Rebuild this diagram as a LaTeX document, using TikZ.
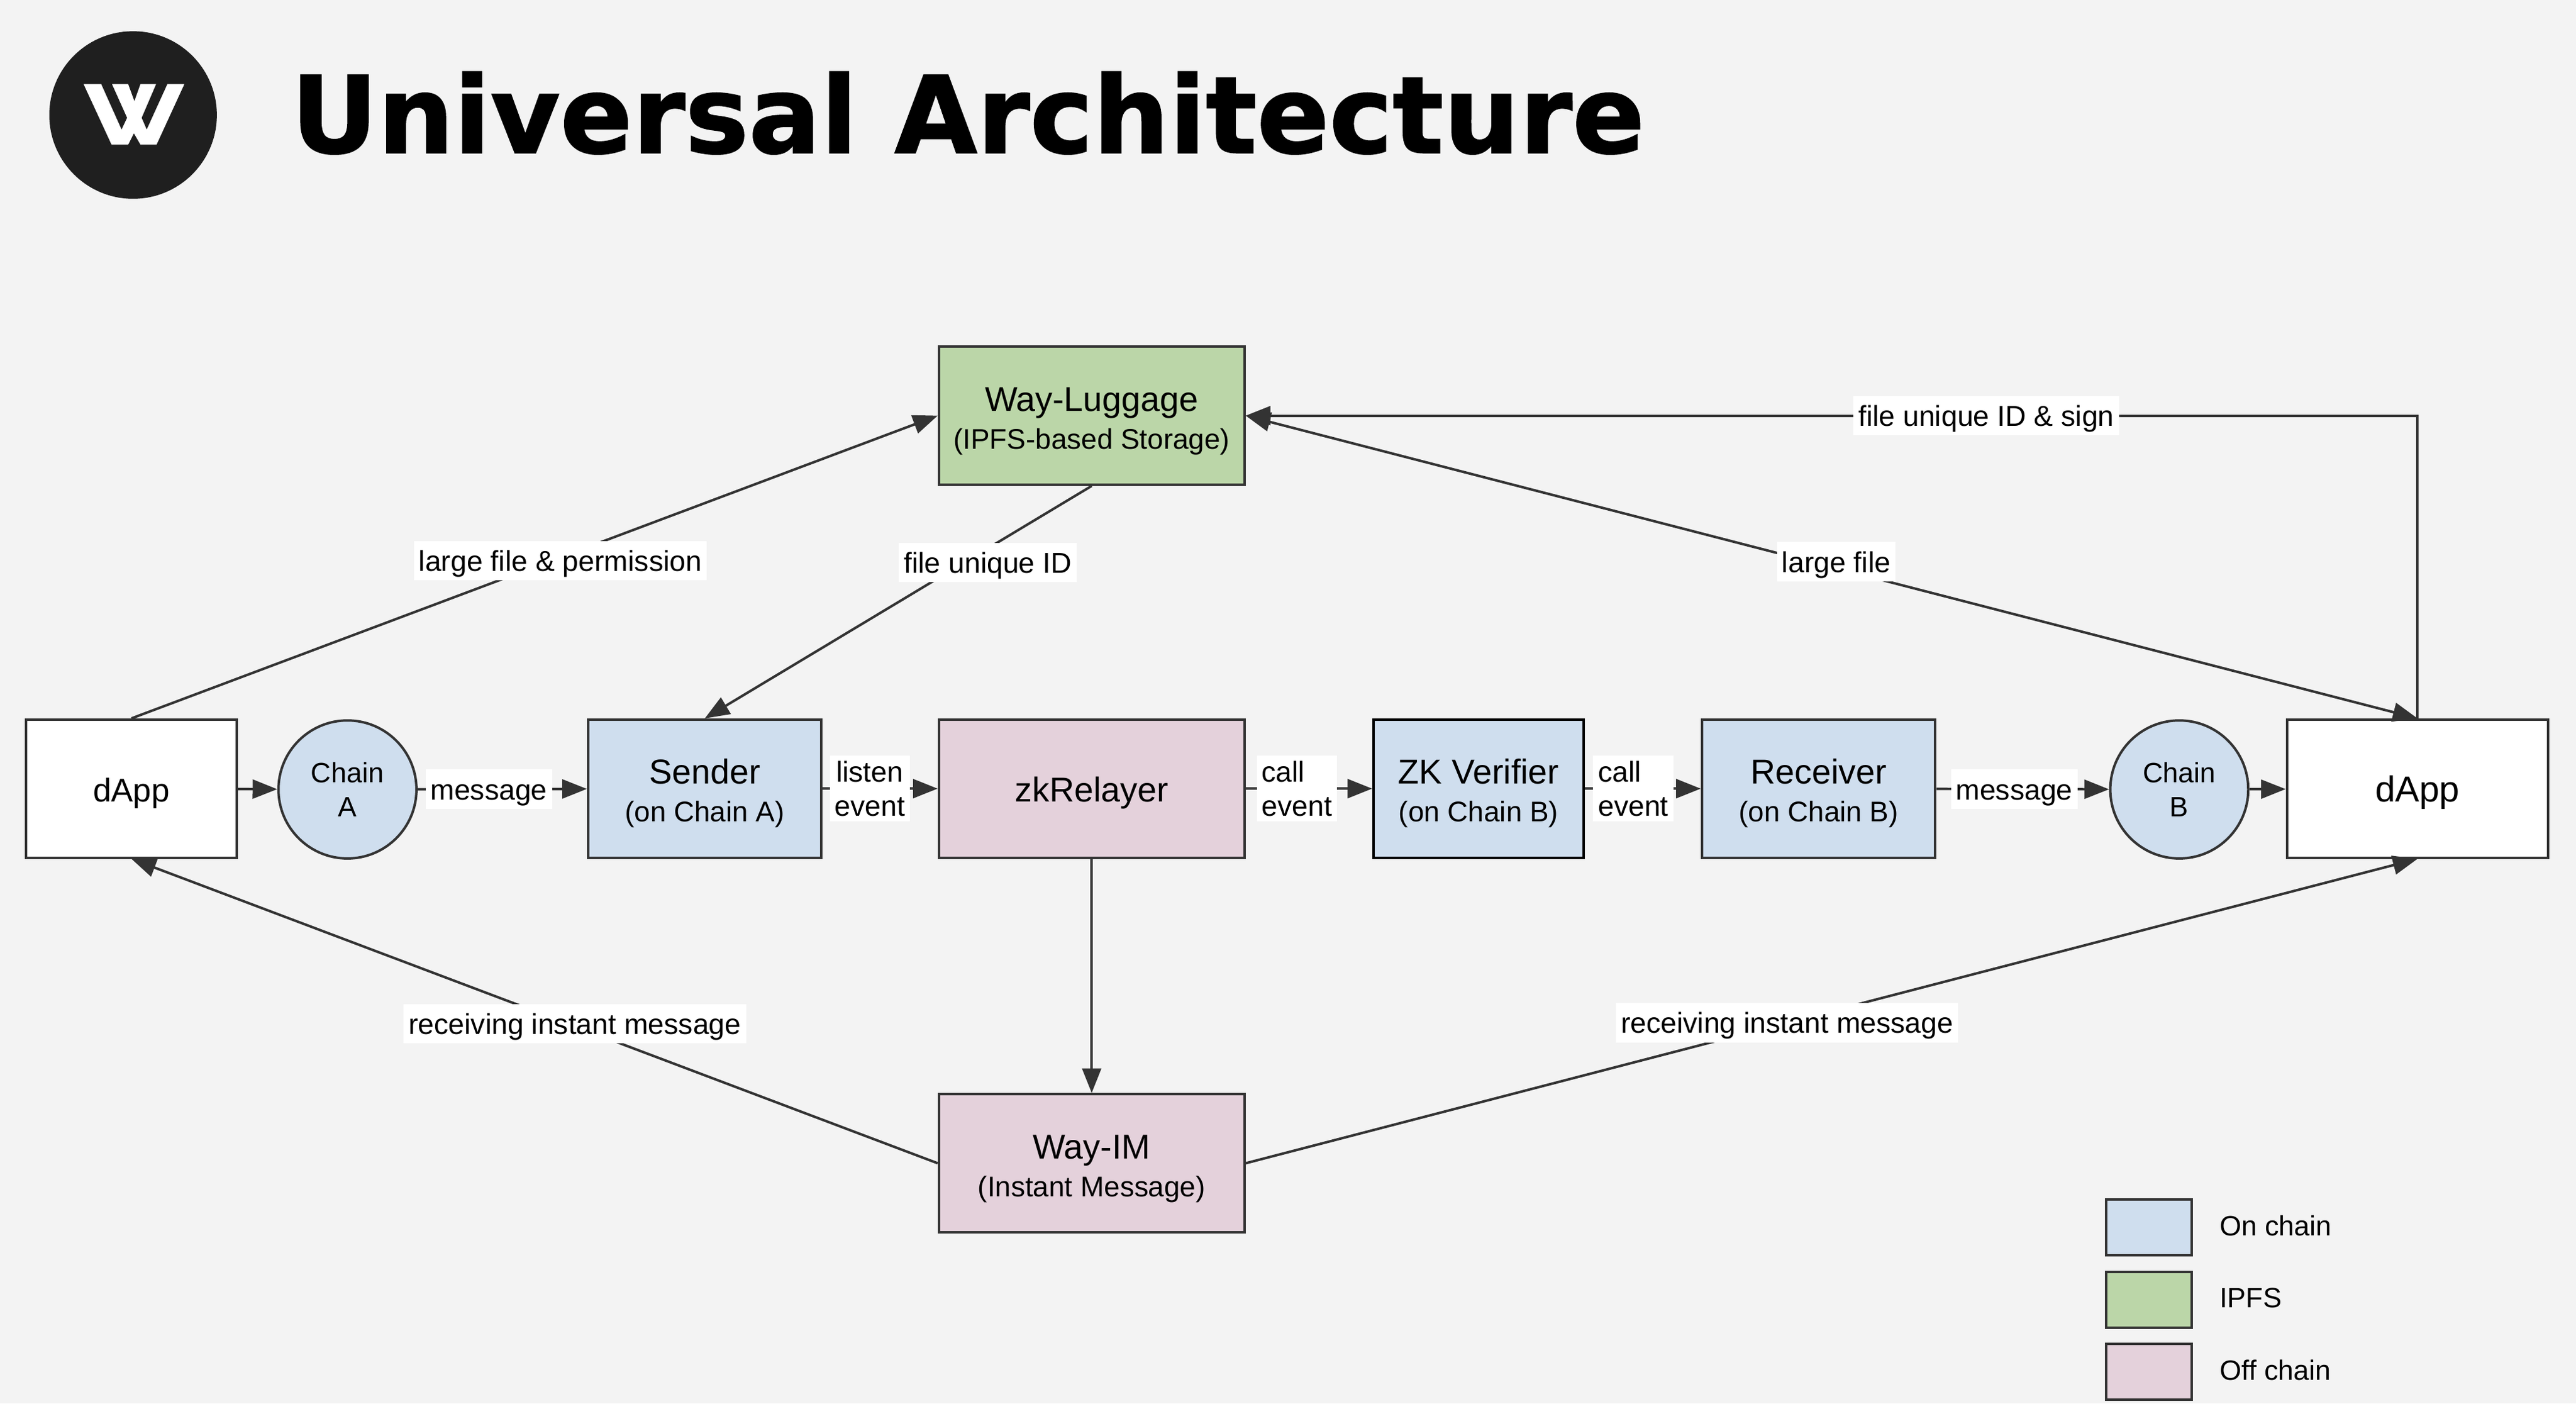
\documentclass[tikz,border=0pt]{standalone}
\usepackage{fontspec}
\usetikzlibrary{arrows.meta}
\setmainfont{Liberation Sans}
\newfontfamily\titlefont{DejaVu Sans Bold}[FakeBold = 1.2]
\definecolor{mblue}{HTML}{CFDEEE}
\definecolor{mgreen}{HTML}{BBD6A8}
\definecolor{mpink}{HTML}{E4D1DB}
\definecolor{mline}{HTML}{333333}
\definecolor{mback}{HTML}{F3F3F3}
\newcommand{\twolines}[2]{\rule{0pt}{21pt}#1\\{\fontsize{17.3}{23}\selectfont #2}}
\tikzset{box/.style = {draw = mline, line width = 1.5pt, minimum height = 84pt, inner sep = 0, align = center, font = \fontsize{21}{23}\selectfont}}
\tikzset{onebox/.style = {box, text height = 18pt, text depth = 2pt}}
\tikzset{chain/.style = {draw = mline, fill = mblue, line width = 1.5pt, circle, minimum size = 84pt, inner sep = 0, align = center, font = \fontsize{17}{21}\selectfont}}
\tikzset{lab/.style = {fill = white, inner sep = 3pt, align = center, font = \fontsize{17.5}{21}\selectfont}}
\tikzset{oneline/.style = {lab, text height = 15.5pt, text depth = 2.5pt}}
\tikzset{arr/.style = {draw = mline, line width = 1.5pt}}
\tikzset{legbox/.style = {draw = mline, line width = 1.5pt, minimum width = 52pt, minimum height = 34pt, inner sep = 0}}
\begin{document}
\begin{tikzpicture}[x = 1pt, y = -1pt, >={Triangle[length = 15pt, width = 11.5pt]}]
  \fill [mback] (0, 0) rectangle (1568, 854.2);
  \useasboundingbox (0, 0) rectangle (1568, 854.2);

  % header
  \node [circle, fill = black!88, minimum size = 102pt, inner sep = 0] (logo) at (81, 70) {};
  \fill [white] (50.9, 51.2) -- (61.6, 51.2) -- (74, 78.9) -- (77.4, 71.7) -- (68.2, 51.2) -- (78, 51.2) -- (81.8, 61.6) -- (85.5, 51.2) -- (95, 51.2) -- (86.2, 71.7) -- (89.3, 78.9) -- (101.9, 51.2) -- (112.2, 51.2) -- (95.3, 88) -- (85.5, 88) -- (81.5, 81.1) -- (78, 88) -- (67.9, 88) -- cycle;
  \node [anchor = base west, inner sep = 0, font = \titlefont\fontsize{65}{75}\selectfont] (title) at (177, 93) {Universal Architecture};

  % middle row
  \node [onebox, fill = white, minimum width = 128pt, font = \fontsize{20}{23}\selectfont] (dappl) at (80, 480) {dApp};
  \node [chain] (chaina) at (211.5, 480.5) {Chain\\A};
  \node [box, fill = mblue, minimum width = 142pt] (sender) at (429, 480) {\twolines{Sender}{(on Chain A)}};
  \node [onebox, fill = mpink, minimum width = 186pt] (relayer) at (664.5, 480) {zkRelayer};
  \node [box, fill = mblue, draw = black, minimum width = 128pt] (verifier) at (900, 480) {\twolines{ZK Verifier}{(on Chain B)}};
  \node [box, fill = mblue, minimum width = 142pt] (receiver) at (1107, 480) {\twolines{Receiver}{(on Chain B)}};
  \node [chain] (chainb) at (1326.5, 480.5) {Chain\\B};
  \node [onebox, fill = white, minimum width = 159pt, font = \fontsize{22}{25}\selectfont] (dappr) at (1471.5, 480) {dApp};

  % top and bottom
  \node [box, fill = mgreen, minimum width = 186pt] (luggage) at (664.5, 253) {\twolines{Way-Luggage}{(IPFS-based Storage)}};
  \node [box, fill = mpink, minimum width = 186pt] (wayim) at (664.5, 708) {\twolines{Way-IM}{(Instant Message)}};

  \draw [arr, ->] (dappl) -- (chaina);
  \draw [arr, ->] (chaina) -- node [oneline, pos = 0.42] (msga) {message} (sender);
  \draw [arr, ->] (sender) -- node [lab, pos = 0.41] (listen) {listen\\event} (relayer);
  \draw [arr, ->] (relayer) -- node [lab, pos = 0.405, align = left] (calla) {call\\event} (verifier);
  \draw [arr, ->] (verifier) -- node [lab, pos = 0.417, align = left] (callb) {call\\event} (receiver);
  \draw [arr, ->] (receiver) -- node [oneline, pos = 0.45] (msgb) {message} (chainb);
  \draw [arr, ->] (chainb) -- (dappr);
  \draw [arr, ->] (relayer) -- (wayim);

  \draw [arr, ->] (dappl.north) -- node [oneline, pos = 0.532, yshift = -2pt] (perm) {large file \& permission} (luggage.west);
  \draw [arr, ->] (luggage.south) -- node [oneline, pos = 0.33, xshift = 14.5pt] (fileid) {file unique ID} (sender.north);
  \draw [arr, <->] (luggage.east) -- node [oneline, pos = 0.504, yshift = 4pt] (large) {large file} (dappr.north);
  \draw [arr, ->] (dappr.north) |- node [oneline, pos = 0.684] (sign) {file unique ID \& sign} (luggage.east);
  \draw [arr, ->] (wayim.west) -- node [oneline, pos = 0.45, yshift = 1.5pt] (recvl) {receiving instant message} (dappl.south);
  \draw [arr, ->] (wayim.east) -- node [oneline, pos = 0.462] (recvr) {receiving instant message} (dappr.south);

  % legend
  \foreach \y/\c/\t in {747/mblue/On chain, 791/mgreen/IPFS, 835/mpink/Off chain} {
    \node [legbox, fill = \c] (leg\y) at (1308, \y) {};
    \node [anchor = west, inner sep = 0, yshift = 1pt, font = \fontsize{17}{21}\selectfont] (legtext\y) at (1351, \y) {\t};
  }
\end{tikzpicture}
\end{document}
